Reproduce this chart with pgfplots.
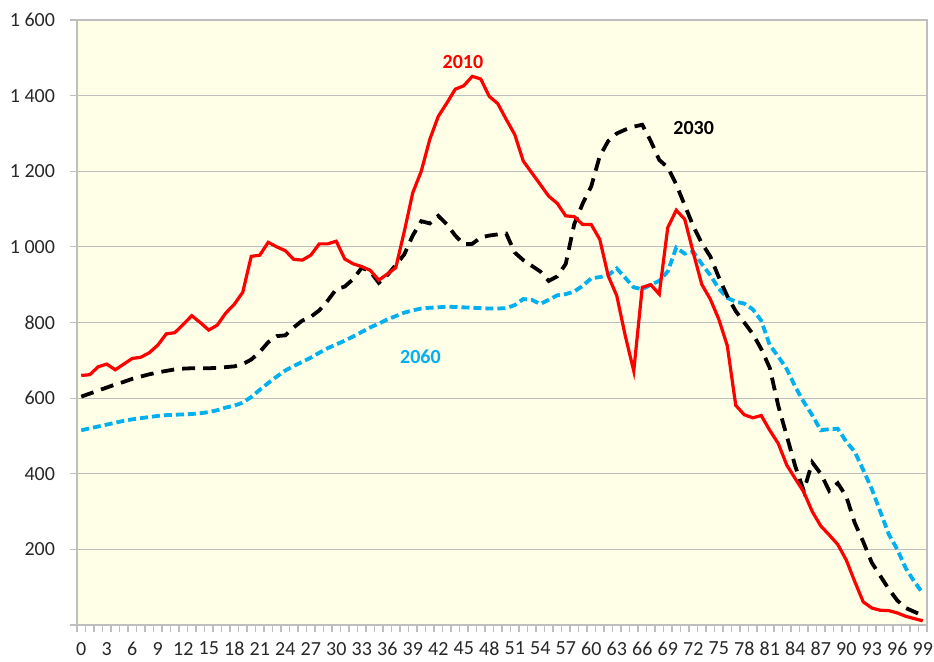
\documentclass[border=0pt]{standalone}
\usepackage{pgfplots}
\pgfplotsset{compat=1.18}
\usepackage{pgfplotstable}
\usepackage{fontspec}
\setmainfont{Carlito}
\definecolor{bgyel}{RGB}{255,254,230}
\definecolor{gridg}{RGB}{190,190,190}
\definecolor{lblue}{RGB}{0,176,240}
\definecolor{tickc}{RGB}{40,40,40}

\pgfplotstableread{
age y
0 660
1 662
2 683
3 690
4 675
5 690
6 705
7 708
8 720
9 740
10 770
11 773
12 795
13 818
14 800
15 780
16 793
17 825
18 848
19 880
20 975
21 978
22 1012
23 1000
24 990
25 967
26 965
27 978
28 1008
29 1008
30 1015
31 968
32 955
33 948
34 938
35 912
36 928
37 945
38 1040
39 1143
40 1200
41 1284
42 1345
43 1380
44 1417
45 1426
46 1451
47 1444
48 1398
49 1379
50 1337
51 1297
52 1227
53 1196
54 1165
55 1134
56 1115
57 1082
58 1080
59 1059
60 1059
61 1020
62 923
63 871
64 765
65 672
66 893
67 900
68 875
69 1051
70 1097
71 1073
72 985
73 901
74 862
75 809
76 739
77 581
78 556
79 548
80 554
81 515
82 480
83 423
84 387
85 352
86 300
87 262
88 238
89 213
90 172
91 115
92 61
93 45
94 39
95 38
96 32
97 23
98 17
99 11
}\tabA

\pgfplotstableread{
age y
0 604
1 612
2 620
3 628
4 636
5 643
6 651
7 657
8 663
9 668
10 672
11 676
12 678
13 679
14 679
15 679
16 680
17 682
18 684
19 690
20 702
21 722
22 748
23 764
24 766
25 787
26 805
27 815
28 832
29 858
30 888
31 895
32 915
33 945
34 935
35 905
36 925
37 952
38 980
39 1030
40 1068
41 1062
42 1082
43 1060
44 1030
45 1007
46 1008
47 1025
48 1030
49 1033
50 1035
51 985
52 965
53 950
54 935
55 910
56 922
57 955
58 1060
59 1115
60 1160
61 1240
62 1280
63 1300
64 1310
65 1318
66 1323
67 1280
68 1230
69 1210
70 1165
71 1110
72 1055
73 1010
74 975
75 920
76 870
77 830
78 800
79 770
80 730
81 680
82 580
83 500
84 420
85 355
86 430
87 400
88 355
89 375
90 340
91 270
92 220
93 165
94 130
95 95
96 65
97 45
98 35
99 25
}\tabB

\pgfplotstableread{
age y
0 515
1 520
2 525
3 530
4 535
5 540
6 544
7 547
8 550
9 553
10 555
11 556
12 557
13 558
14 560
15 563
16 568
17 575
18 580
19 588
20 603
21 622
22 640
23 657
24 673
25 685
26 696
27 707
28 720
29 732
30 742
31 752
32 763
33 775
34 787
35 797
36 808
37 817
38 826
39 832
40 837
41 839
42 840
43 842
44 841
45 840
46 839
47 838
48 837
49 837
50 838
51 846
52 862
53 860
54 849
55 860
56 872
57 875
58 882
59 897
60 917
61 920
62 925
63 943
64 918
65 893
66 888
67 900
68 910
69 935
70 998
71 982
72 987
73 955
74 925
75 890
76 865
77 855
78 850
79 835
80 805
81 740
82 710
83 677
84 630
85 590
86 555
87 515
88 518
89 519
90 485
91 458
92 410
93 360
94 300
95 240
96 200
97 150
98 115
99 84
}\tabC

\begin{document}
\begin{tikzpicture}
\begin{axis}[
  scale only axis,
  width=425pt, height=302.5pt,
  xmin=-0.5, xmax=99.5, ymin=0, ymax=1600,
  axis background/.style={fill=bgyel},
  axis line style={gridg, line width=0.8pt},
  ytick={0,200,...,1600},
  yticklabels={{},200,400,600,800,1 000,1 200,1 400,1 600},
  ymajorgrids, major grid style={gridg, line width=0.6pt},
  xtick={0,3,...,99},
  minor xtick={-0.5,0.5,...,99.5},
  major tick length=3.5pt,
  minor tick length=3.5pt,
  tick style={gridg, line width=0.6pt},
  every major x tick/.append style={draw=none},
  tick align=outside,
  xtick pos=bottom, ytick pos=left,
  /pgf/number format/assume math mode=true,
  tick label style={font=\fontsize{10}{12}\selectfont, text=tickc},
  xticklabel style={yshift=-1.5pt},
  yticklabel style={xshift=-4pt},
  clip=false,
]
\addplot[lblue, line width=1.9pt, dash pattern=on 4pt off 2pt] table[x=age,y=y] {\tabC};
\addplot[black, line width=1.9pt, dash pattern=on 6.5pt off 4pt] table[x=age,y=y] {\tabB};
\addplot[red, line width=1.6pt] table[x=age,y=y] {\tabA};
\node[red, font=\fontsize{10}{12}\selectfont\bfseries] at (axis cs:44.9,1489) {2010};
\node[black, font=\fontsize{10}{12}\selectfont\bfseries] at (axis cs:72.05,1315) {2030};
\node[lblue, font=\fontsize{10}{12}\selectfont\bfseries] at (axis cs:39.9,709) {2060};
\end{axis}
\pgfresetboundingbox
\path[use as bounding box] ([xshift=-38.5pt,yshift=-18pt]current axis.south west) rectangle ([xshift=3.5pt,yshift=10pt]current axis.north east);
\end{tikzpicture}
\end{document}
